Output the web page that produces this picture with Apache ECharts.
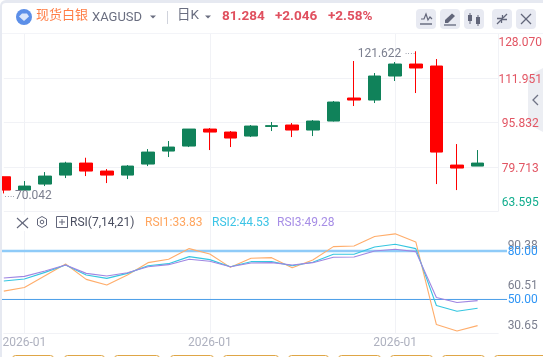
<!DOCTYPE html>
<html><head><meta charset="utf-8">
<style>html,body{margin:0;padding:0;background:#fff}#c{position:absolute;left:0;top:0;width:543px;height:357px}
#f{position:absolute;left:0;top:0;width:541px;height:354px;border-left:2px solid #e6e9f1;border-top:3px solid #e6e9f1;border-top-left-radius:6px;pointer-events:none}</style>
<script src="https://cdn.jsdelivr.net/npm/echarts@6/dist/echarts.min.js"></script>
</head><body><div id="c"></div><div id="f"></div>
<script>
const symbolName='现货白银', symbolCode='XAGUSD', periodName='日K';
const lastPrice='81.284', change='+2.046', changePct='+2.58%';
const categories=['2026-01-01','2026-01-02','2026-01-03','2026-01-04','2026-01-05','2026-01-06','2026-01-07','2026-01-08','2026-01-09','2026-01-10','2026-01-11','2026-01-12','2026-01-13','2026-01-14','2026-01-15','2026-01-16','2026-01-17','2026-01-18','2026-01-19','2026-01-20','2026-01-21','2026-01-22','2026-01-23','2026-01-24','2026-01-25'];
const opens=[76.09,71.26,73.44,76.70,81.06,78.16,76.70,80.70,85.42,87.23,93.40,92.31,90.86,94.35,94.86,93.04,96.31,104.66,103.93,112.64,116.99,116.27,80.33,79.97];
const closes=[71.26,72.71,76.34,81.06,78.16,76.70,79.97,85.05,86.87,93.40,92.31,90.14,94.49,94.64,93.04,96.31,103.20,103.93,112.64,116.99,115.55,85.05,79.25,81.06];
const lows=[70.042,71.26,72.71,75.62,76.34,73.80,75.25,79.97,83.24,86.87,85.78,86.87,90.50,92.68,90.50,90.86,96.13,101.75,102.84,110.83,106.47,73.44,71.26,79.97];
const highs=[76.16,74.53,77.79,81.53,82.99,78.88,80.33,86.14,89.05,93.40,93.77,92.68,94.86,95.95,95.58,96.67,103.57,118.09,113.73,117.72,121.622,118.81,87.96,85.78];
const rsi1=[55.16,57.44,64.68,71.93,62.40,58.89,65.10,72.75,74.82,81.45,78.14,69.86,75.45,75.86,69.65,74.41,82.69,83.10,88.90,90.56,85.59,34.46,30.53,33.83];
const rsi2=[61.37,62.61,66.75,71.30,65.10,63.03,66.13,70.89,72.13,76.48,74.62,70.27,73.37,73.37,70.89,72.96,77.93,77.93,82.48,84.14,81.45,46.26,42.74,44.53];
const rsi3=[63.23,64.27,67.58,71.30,66.13,64.47,66.54,70.27,71.51,74.82,73.58,70.27,72.55,72.75,71.30,72.75,76.07,76.27,80.00,81.03,79.59,51.23,48.12,49.28];
const priceTicks=[63.595,79.713,95.832,111.951,128.07];
const rsiTicks=[30.65,60.51,90.38];
const rsiLevels=[50,80];
const legendRsi=['RSI1:33.83','RSI2:44.53','RSI3:49.28'];
const bottomTabs=[[12,53],[64,104],[114,159],[170,213],[223,278],[288,328],[338,380],[390,432],[442,484],[494,560]];

const FONT='Roboto,"Noto Sans CJK SC",sans-serif';
const RED='#e25563', GREEN='#12ad8e', UP='#10825a', DOWN='#ff0000';
const GRIDC='#f1f2f6';
const candles=opens.map((o,i)=>[o,closes[i],lows[i],highs[i]]);
const tickAt=(i)=>i%9===1;
const rsiMin=28.89, rsiMax=104.2;

function rs(color,s){return {color,fontSize:12,fontFamily:FONT,padding:s>=0?[2*s,0,0,0]:[0,0,-2*s,0]};}
const priceRich={a:rs(RED,9),b:rs(RED,2),c:rs(GREEN,-8)};
const rsiRich={a:rs('#7b7f8f',11.5),b:rs('#7b7f8f',3.2),c:rs('#7b7f8f',-4.4),d:rs('#2f95f5',1),e:rs('#2f95f5',0.7)};

const ICON='#62667a', HDR='#6a6e80';
function txt(x,y,text,fill,size,weight,align){return {type:'text',x,y,silent:true,z:50,style:{text,fill,fontSize:size,fontWeight:weight||'normal',fontFamily:FONT,textAlign:align||'left',textVerticalAlign:'middle'}};}
function btn(x){return {type:'rect',shape:{x,y:9,width:20,height:20,r:4},style:{fill:'#e8eaf2'},z:40,silent:true};}
function pl(points,stroke,w){return {type:'polyline',shape:{points},style:{stroke,fill:null,lineWidth:w||1.3},z:50,silent:true};}
function tri(x,y,fill){return {type:'polygon',shape:{points:[[x-3,y-1.5],[x+3,y-1.5],[x,y+1.5]]},style:{fill},z:50,silent:true};}
const graphics=[
 {type:'circle',shape:{cx:24,cy:17,r:8},style:{fill:'#5c8fe8'},z:50,silent:true},
 {type:'polygon',shape:{points:[[19,16.5],[22,13.5],[27,13.5],[29,16.5],[24,21]]},style:{fill:'#dbe6fb'},z:51,silent:true},
 txt(36,16,symbolName,'#ff7d45',13),
 txt(92,18,symbolCode,HDR,13),
 tri(153,17,HDR),
 pl([[167.5,11],[167.5,24]],'#d0d3dc',1),
 txt(177,16,periodName,HDR,13.5),
 tri(208,17,HDR),
 txt(222,16.5,lastPrice,'#e0505f',13.5,'bold'),
 txt(275,16.5,change,'#e0505f',13.5,'bold'),
 txt(328,16.5,changePct,'#e0505f',13.5,'bold'),
 btn(416),btn(440),btn(464),btn(492),btn(516),
 pl([[421,19],[424,19],[426,14],[428,20],[430,17],[432,19]],ICON,1.2),pl([[420,24],[432,24]],ICON,1.4),
 {type:'polygon',shape:{points:[[445,23],[445,20],[452,13.5],[455,16],[448,23]]},style:{fill:ICON},z:50,silent:true},pl([[444,25],[456,25]],ICON,1.3),
 pl([[470,13],[470,24]],ICON,1),{type:'rect',shape:{x:468,y:15,width:4,height:6},style:{fill:ICON},z:50,silent:true},
 pl([[478,15],[478,26]],ICON,1),{type:'rect',shape:{x:476,y:17,width:4,height:7},style:{fill:ICON},z:50,silent:true},
 pl([[507,14],[503,18]],ICON,1.3),pl([[501,20],[497,24]],ICON,1.3),pl([[502.5,15],[502.5,19.5],[507,19.5]],ICON,1.3),pl([[497,18.5],[501.5,18.5],[501.5,23]],ICON,1.3),
 pl([[521,14],[531,24]],ICON,1.2),pl([[531,14],[521,24]],ICON,1.2),
 {type:'polygon',shape:{points:[[543,68],[528,76],[528,124],[543,132]]},style:{fill:'#eceef3'},z:-1,silent:true},
 pl([[538,95],[533,100],[538,105]],'#6f7385',1.3),
 {type:'rect',shape:{x:14,y:215,width:56,height:16},style:{fill:'#fff'},z:30,silent:true},
 pl([[17,218],[28,228]],ICON,1.1),pl([[28,218],[17,228]],ICON,1.1),
 {type:'polygon',shape:{points:[[42,216.5],[46.5,219],[46.5,225],[42,227.5],[37.5,225],[37.5,219]]},style:{stroke:ICON,fill:null,lineWidth:1},z:50,silent:true},
 {type:'circle',shape:{cx:42,cy:222,r:1.8},style:{stroke:ICON,fill:null,lineWidth:1},z:50,silent:true},
 {type:'rect',shape:{x:56.5,y:216.5,width:11,height:11},style:{stroke:ICON,fill:null,lineWidth:1},z:50,silent:true},
 pl([[62,219],[62,225]],ICON,1),pl([[59,222],[65,222]],ICON,1),
 txt(70,223,'RSI(7,14,21)','#4a4e60',12),
 txt(145,223,legendRsi[0],'#ffa55e',12),
 txt(212,223,legendRsi[1],'#3cc4e6',12),
 txt(277,223,legendRsi[2],'#a78ee6',12),
 ...bottomTabs.map(t=>({type:'rect',shape:{x:t[0]+.5,y:355.5,width:t[1]-t[0],height:10,r:3},style:{stroke:'#dfa646',fill:'#fff',lineWidth:1},z:50,silent:true})),
 {type:'rect',shape:{x:0,y:33,width:543,height:1},style:{fill:'#f3f4f8'},z:1,silent:true}
];

const chart=echarts.init(document.getElementById('c'),null,{renderer:'canvas'});
const xBase={type:'category',data:categories,boundaryGap:false,axisTick:{show:false}};
const gridL=3.8, gridW=494.4;
const extremeLabel={color:'#7b7f8f',fontSize:12,fontFamily:FONT};
chart.setOption({
 animation:false,
 backgroundColor:'transparent',
 grid:[
  {left:gridL,top:33.5,width:gridW,height:177.7,outerBoundsMode:'none'},
  {left:gridL,top:211.8,width:gridW,height:121.8,outerBoundsMode:'none'},
  {left:2,top:211.8,width:505,height:121.8,outerBoundsMode:'none'}
 ],
 xAxis:[
  {...xBase,gridIndex:0,axisLine:{show:false},axisLabel:{show:false},splitLine:{show:true,interval:tickAt,lineStyle:{color:GRIDC,width:1}}},
  {...xBase,gridIndex:1,axisLine:{show:true,lineStyle:{color:GRIDC}},
    axisLabel:{interval:tickAt,formatter:(v)=>v.slice(0,7),color:'#aeb1bf',fontSize:12,fontFamily:FONT,margin:2,lineHeight:14},splitLine:{show:true,interval:tickAt,lineStyle:{color:GRIDC,width:1}}},
  {type:'value',gridIndex:2,min:0,max:1,show:false}
 ],
 yAxis:[
  {type:'value',gridIndex:0,position:'right',min:63.595,max:128.07,
   axisLine:{show:true,lineStyle:{color:GRIDC}},axisTick:{show:false,customValues:priceTicks},
   splitLine:{show:true,lineStyle:{color:GRIDC}},
   axisLabel:{customValues:priceTicks,align:'center',margin:22,showMinLabel:true,showMaxLabel:true,
     formatter:(v)=>{const k=v>128?'a':v<64?'c':'b';return '{'+k+'|'+v.toFixed(3)+'}';},rich:priceRich}},
  {type:'value',gridIndex:1,position:'right',min:rsiMin,max:rsiMax,
   axisLine:{show:false},axisTick:{show:false,customValues:[...rsiTicks,...rsiLevels]},splitLine:{show:false},
   axisLabel:{customValues:[...rsiTicks,...rsiLevels],align:'center',margin:24.5,showMinLabel:true,showMaxLabel:true,
     formatter:(v)=>{const k=v>90?'a':v===80?'d':v===50?'e':v>60?'b':'c';return '{'+k+'|'+v.toFixed(2)+'}';},rich:rsiRich}},
  {type:'value',gridIndex:2,min:rsiMin,max:rsiMax,show:false}
 ],
 series:[
  {type:'candlestick',xAxisIndex:0,yAxisIndex:0,data:candles,barWidth:13,clip:false,
   itemStyle:{color:UP,color0:DOWN,borderColor:UP,borderColor0:DOWN,borderWidth:1},
   markPoint:{symbol:'circle',symbolSize:1,itemStyle:{color:'transparent'},silent:true,data:[
     {coord:[categories[20],121.622],label:{show:true,position:'left',distance:0,formatter:'{t|121.622} {d|····}',rich:{t:extremeLabel,d:{color:'#8a8e9d',fontSize:8}},offset:[0,3]}},
     {coord:[categories[0],70.042],label:{show:true,position:'right',distance:0,formatter:'{d|····}{t|70.042}',rich:{t:extremeLabel,d:{color:'#8a8e9d',fontSize:8}},offset:[0,3]}}
   ]}},
  {type:'line',xAxisIndex:2,yAxisIndex:2,data:[[0,rsiLevels[1]],[1,rsiLevels[1]]],symbol:'none',silent:true,z:1,lineStyle:{color:'#8fcbf8',width:2.5}},
  {type:'line',xAxisIndex:2,yAxisIndex:2,data:[[0,rsiLevels[0]],[1,rsiLevels[0]]],symbol:'none',silent:true,z:1,lineStyle:{color:'#4a9de8',width:1}},
  {type:'line',xAxisIndex:1,yAxisIndex:1,data:rsi1,symbol:'none',silent:true,clip:false,z:3,lineStyle:{color:'#ffad6b',width:1.1}},
  {type:'line',xAxisIndex:1,yAxisIndex:1,data:rsi2,symbol:'none',silent:true,clip:false,z:3,lineStyle:{color:'#35c6e0',width:1.1}},
  {type:'line',xAxisIndex:1,yAxisIndex:1,data:rsi3,symbol:'none',silent:true,clip:false,z:3,lineStyle:{color:'#9f86e2',width:1.1}}
 ],
 graphic:graphics
});
</script></body></html>
